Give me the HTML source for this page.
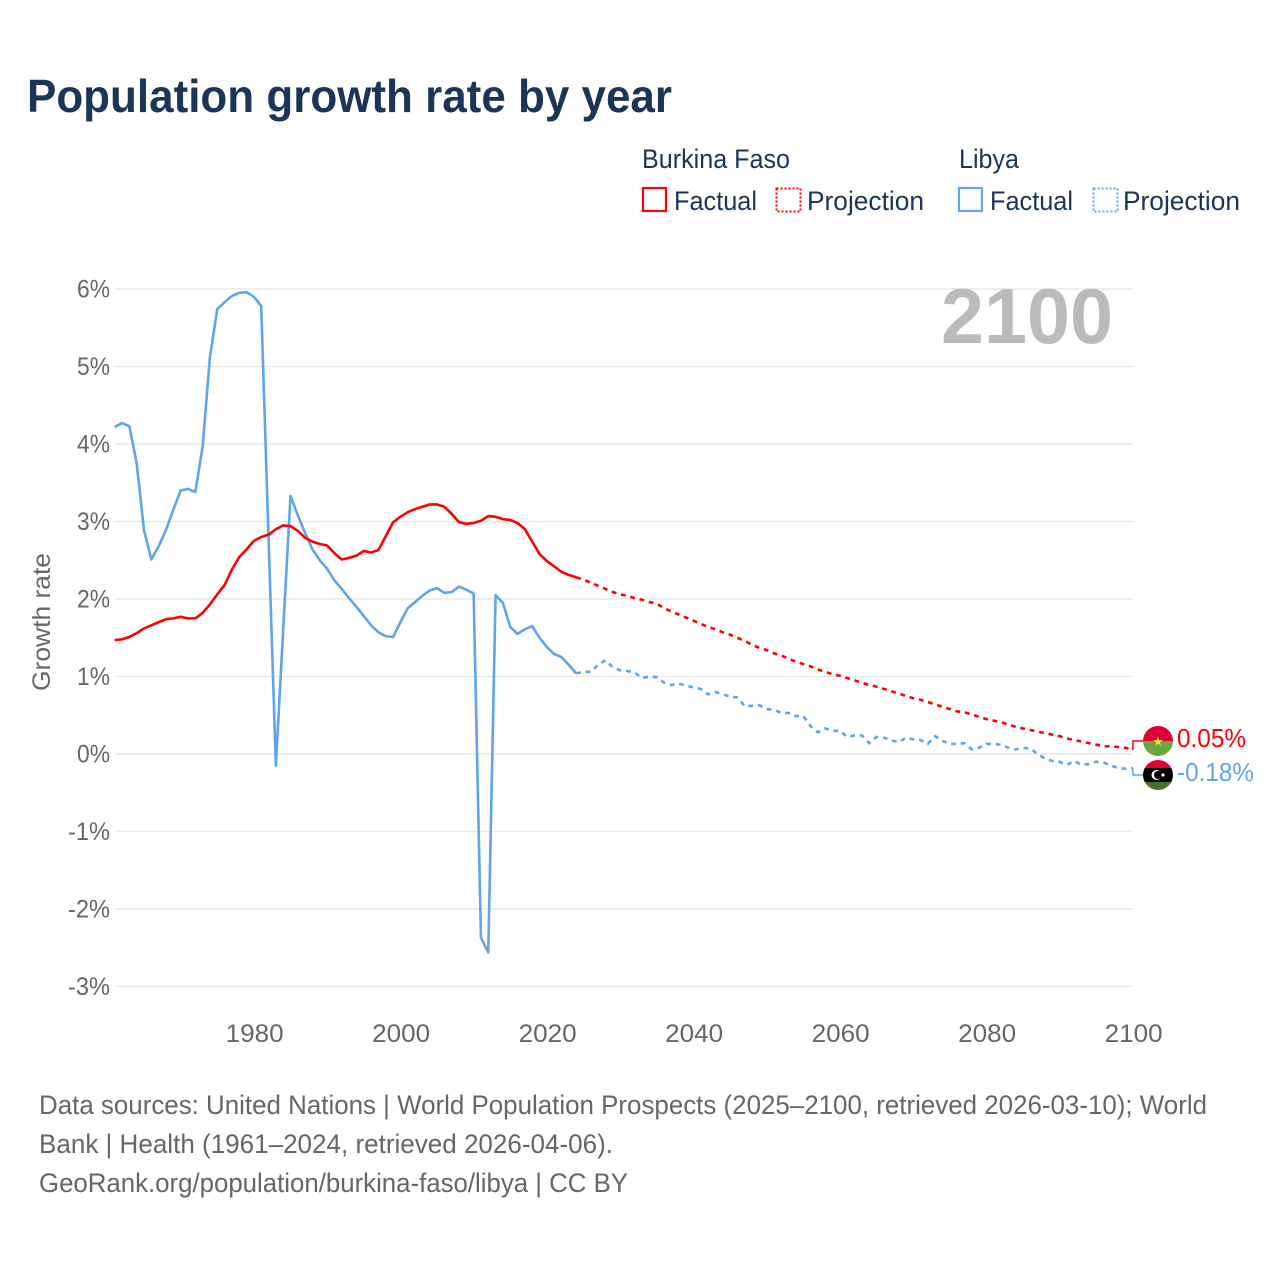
<!DOCTYPE html>
<html lang="en">
<head>
<meta charset="utf-8">
<title>Population growth rate by year</title>
<style>
html,body{margin:0;padding:0;background:#fff;width:1280px;height:1280px;overflow:hidden}
svg{display:block}
text{font-family:"Liberation Sans",sans-serif}
.tick{font-size:25px;fill:#666}
.legend{font-size:27px;fill:#1a3557}
.foot{font-size:27px;fill:#666}
</style>
</head>
<body>
<svg id="chart" xmlns="http://www.w3.org/2000/svg" width="1280" height="1280" viewBox="0 0 1280 1280">
  <rect width="1280" height="1280" fill="#fff"/>
  <text x="27" y="112" font-size="46" font-weight="700" fill="#1a3557" textLength="645" lengthAdjust="spacingAndGlyphs">Population growth rate by year</text>

  <g>
    <text class="legend" x="642" y="168" textLength="148" lengthAdjust="spacingAndGlyphs">Burkina Faso</text>
    <text class="legend" x="959" y="168" textLength="60" lengthAdjust="spacingAndGlyphs">Libya</text>
    <rect x="643" y="188" width="23" height="23" fill="none" stroke="#ff0000" stroke-width="2.2"/>
    <text class="legend" x="674" y="210" textLength="83" lengthAdjust="spacingAndGlyphs">Factual</text>
    <rect x="776.5" y="188.5" width="24" height="23" fill="none" stroke="#ff0000" stroke-width="2" stroke-dasharray="2 2"/>
    <text class="legend" x="807" y="210" textLength="117" lengthAdjust="spacingAndGlyphs">Projection</text>
    <rect x="959" y="188" width="23" height="23" fill="none" stroke="#60a5eb" stroke-width="2.2"/>
    <text class="legend" x="990" y="210" textLength="83" lengthAdjust="spacingAndGlyphs">Factual</text>
    <rect x="1093.5" y="188.5" width="24" height="23" fill="none" stroke="#60a5eb" stroke-width="2" stroke-dasharray="2 2"/>
    <text class="legend" x="1123" y="210" textLength="117" lengthAdjust="spacingAndGlyphs">Projection</text>
  </g>

  <g id="grid"></g>
  <g id="yaxis"></g>
  <g id="xaxis"></g>
  <text transform="translate(50 622) rotate(-90)" text-anchor="middle" font-size="25" fill="#666" textLength="138" lengthAdjust="spacingAndGlyphs">Growth rate</text>
  <text x="941" y="343" font-size="78" font-weight="700" fill="#bbbbbb" textLength="172" lengthAdjust="spacingAndGlyphs">2100</text>

  <g id="series"></g>

  <defs>
    <clipPath id="flag-clip-bf"><circle cx="1158" cy="741" r="15"/></clipPath>
    <clipPath id="flag-clip-ly"><circle cx="1158" cy="775" r="15"/></clipPath>
  </defs>
  <g clip-path="url(#flag-clip-bf)">
    <rect x="1143" y="726" width="30" height="15" fill="#de0037"/>
    <rect x="1143" y="741" width="30" height="15" fill="#6da544"/>
    <polygon points="1158,736.5 1159.2,740 1162.8,740 1159.9,742.2 1161,745.8 1158,743.6 1155,745.8 1156.1,742.2 1153.2,740 1156.8,740" fill="#ffda44"/>
  </g>
  <g clip-path="url(#flag-clip-ly)">
    <rect x="1143" y="760" width="30" height="8" fill="#de0037"/>
    <rect x="1143" y="768" width="30" height="14" fill="#000"/>
    <rect x="1143" y="782" width="30" height="8" fill="#496e2d"/>
    <circle cx="1156.5" cy="775" r="5" fill="#fff"/>
    <circle cx="1158" cy="775" r="4" fill="#000"/>
    <circle cx="1163" cy="775" r="1.6" fill="#fff"/>
  </g>
  <g id="endlabels"></g>

  <g>
    <text class="foot" x="39" y="1114" textLength="1168" lengthAdjust="spacingAndGlyphs">Data sources: United Nations | World Population Prospects (2025–2100, retrieved 2026-03-10); World</text>
    <text class="foot" x="39" y="1153" textLength="574" lengthAdjust="spacingAndGlyphs">Bank | Health (1961–2024, retrieved 2026-04-06).</text>
    <text class="foot" x="39" y="1192" textLength="589" lengthAdjust="spacingAndGlyphs">GeoRank.org/population/burkina-faso/libya | CC BY</text>
  </g>
</svg>
<script>
const yTicks = [6, 5, 4, 3, 2, 1, 0, -1, -2, -3];
const xTicks = [1980, 2000, 2020, 2040, 2060, 2080, 2100];
const factualStartYear = 1961;
const projectionStartYear = 2024;

const burkinaFactual = [
  1.47,1.48,1.51,1.56,1.62,1.66,1.70,1.74,1.75,1.77,
  1.75,1.75,1.82,1.93,2.06,2.18,2.38,2.54,2.64,2.75,
  2.80,2.83,2.90,2.95,2.94,2.88,2.79,2.74,2.71,2.69,
  2.59,2.51,2.53,2.56,2.62,2.60,2.63,2.81,2.99,3.06,
  3.12,3.16,3.19,3.22,3.22,3.19,3.10,2.99,2.97,2.98,
  3.01,3.07,3.06,3.03,3.02,2.98,2.90,2.74,2.58,2.49,
  2.42,2.35,2.31,2.28
];
const burkinaProjection = [
  2.28,2.25,2.21,2.17,2.13,2.09,2.06,2.04,2.01,1.99,1.96,
  1.94,1.88,1.84,1.80,1.76,1.72,1.68,1.64,1.61,1.57,
  1.54,1.50,1.46,1.41,1.37,1.34,1.30,1.27,1.23,1.19,
  1.16,1.13,1.09,1.06,1.03,1.01,0.98,0.95,0.92,0.89,
  0.87,0.84,0.81,0.78,0.75,0.72,0.70,0.67,0.64,0.61,
  0.58,0.55,0.54,0.51,0.48,0.45,0.43,0.41,0.38,0.35,
  0.33,0.31,0.29,0.27,0.25,0.23,0.20,0.18,0.16,0.14,
  0.12,0.10,0.10,0.09,0.08,0.05
];
const libyaFactual = [
  4.22,4.27,4.23,3.75,2.89,2.51,2.68,2.89,3.15,3.40,
  3.42,3.38,3.96,5.12,5.74,5.83,5.91,5.95,5.96,5.90,
  5.78,2.80,-0.15,1.60,3.33,3.08,2.85,2.64,2.50,2.39,
  2.24,2.13,2.01,1.90,1.78,1.66,1.57,1.52,1.51,1.70,
  1.88,1.96,2.04,2.11,2.14,2.08,2.09,2.16,2.12,2.07,
  -2.37,-2.56,2.05,1.95,1.64,1.55,1.61,1.65,1.50,1.38,
  1.29,1.25,1.15,1.04
];
const libyaProjection = [
  1.04,1.06,1.06,1.15,1.21,1.12,1.08,1.07,1.05,0.98,1.00,
  0.99,0.92,0.89,0.91,0.88,0.86,0.84,0.77,0.80,0.77,
  0.74,0.73,0.62,0.62,0.63,0.58,0.57,0.53,0.53,0.49,
  0.49,0.36,0.28,0.33,0.30,0.30,0.22,0.24,0.24,0.14,
  0.22,0.21,0.18,0.15,0.21,0.19,0.18,0.13,0.23,0.17,
  0.13,0.13,0.14,0.06,0.08,0.13,0.13,0.12,0.08,0.06,
  0.08,0.07,0.00,-0.06,-0.09,-0.10,-0.14,-0.09,-0.14,-0.13,
  -0.10,-0.11,-0.15,-0.18,-0.19,-0.18
];

const NS = 'http://www.w3.org/2000/svg';
const xScale = yr => 114.7 + (yr - 1961) * 7.325;
const yScale = v => 754 - v * 77.5;
const RED = '#ff0000';
const BLUE = '#60a5eb';

function mk(tag, attrs, parent) {
  const el = document.createElementNS(NS, tag);
  for (const k in attrs) el.setAttribute(k, attrs[k]);
  parent.appendChild(el);
  return el;
}
function pathFor(values, startYear) {
  return values.map((v, i) => (i ? 'L' : 'M') + xScale(startYear + i).toFixed(2) + ' ' + yScale(v).toFixed(2)).join(' ');
}

const gridG = document.getElementById('grid');
const yG = document.getElementById('yaxis');
const xG = document.getElementById('xaxis');
const seriesG = document.getElementById('series');
const endG = document.getElementById('endlabels');

yTicks.forEach(t => {
  const line = mk('line', {x1: 115, x2: 1133, y1: yScale(t), y2: yScale(t), stroke: '#e9e9e9', 'stroke-width': 1.6}, gridG);
  
  
  const label = mk('text', {x: t < 0 ? 68 : 77, y: yScale(t) + 8.5, class: 'tick', textLength: t < 0 ? 42 : 33, lengthAdjust: 'spacingAndGlyphs'}, yG);
  label.textContent = t + '%';
  
  
});

xTicks.forEach(t => {
  const label = mk('text', {x: xScale(t) + 0.8, y: 1042, 'text-anchor': 'middle', class: 'tick', textLength: 58, lengthAdjust: 'spacingAndGlyphs'}, xG);
  label.textContent = String(t);
  
  
});

const libyaFactualLine = mk('path', {d: pathFor(libyaFactual, factualStartYear), fill: 'none', stroke: BLUE, 'stroke-width': 2.6, 'stroke-linejoin': 'round'}, seriesG);



const libyaProjectionLine = mk('path', {d: pathFor(libyaProjection, projectionStartYear), fill: 'none', stroke: BLUE, 'stroke-width': 2.6, 'stroke-dasharray': '4.8 4.8'}, seriesG);



const burkinaFactualLine = mk('path', {d: pathFor(burkinaFactual, factualStartYear), fill: 'none', stroke: RED, 'stroke-width': 2.6, 'stroke-linejoin': 'round'}, seriesG);



const burkinaProjectionLine = mk('path', {d: pathFor(burkinaProjection, projectionStartYear), fill: 'none', stroke: RED, 'stroke-width': 2.6, 'stroke-dasharray': '4.8 4.8'}, seriesG);



const burkinaEnd = burkinaProjection[burkinaProjection.length - 1];
const libyaEnd = libyaProjection[libyaProjection.length - 1];

const burkinaConnector = mk('path', {d: 'M' + xScale(2100) + ' ' + yScale(burkinaEnd) + ' L1133 741 L1143 741', fill: 'none', stroke: RED, 'stroke-width': 1.5}, endG);



const libyaConnector = mk('path', {d: 'M' + xScale(2100) + ' ' + yScale(libyaEnd) + ' L1133 775 L1143 775', fill: 'none', stroke: BLUE, 'stroke-width': 1.5}, endG);



const burkinaValue = mk('text', {x: 1177, y: 747, 'font-size': 26, fill: RED, textLength: 69, lengthAdjust: 'spacingAndGlyphs'}, endG);
burkinaValue.textContent = burkinaEnd.toFixed(2) + '%';



const libyaValue = mk('text', {x: 1177, y: 781, 'font-size': 26, fill: BLUE, textLength: 77, lengthAdjust: 'spacingAndGlyphs'}, endG);
libyaValue.textContent = libyaEnd.toFixed(2) + '%';


</script>
</body>
</html>
